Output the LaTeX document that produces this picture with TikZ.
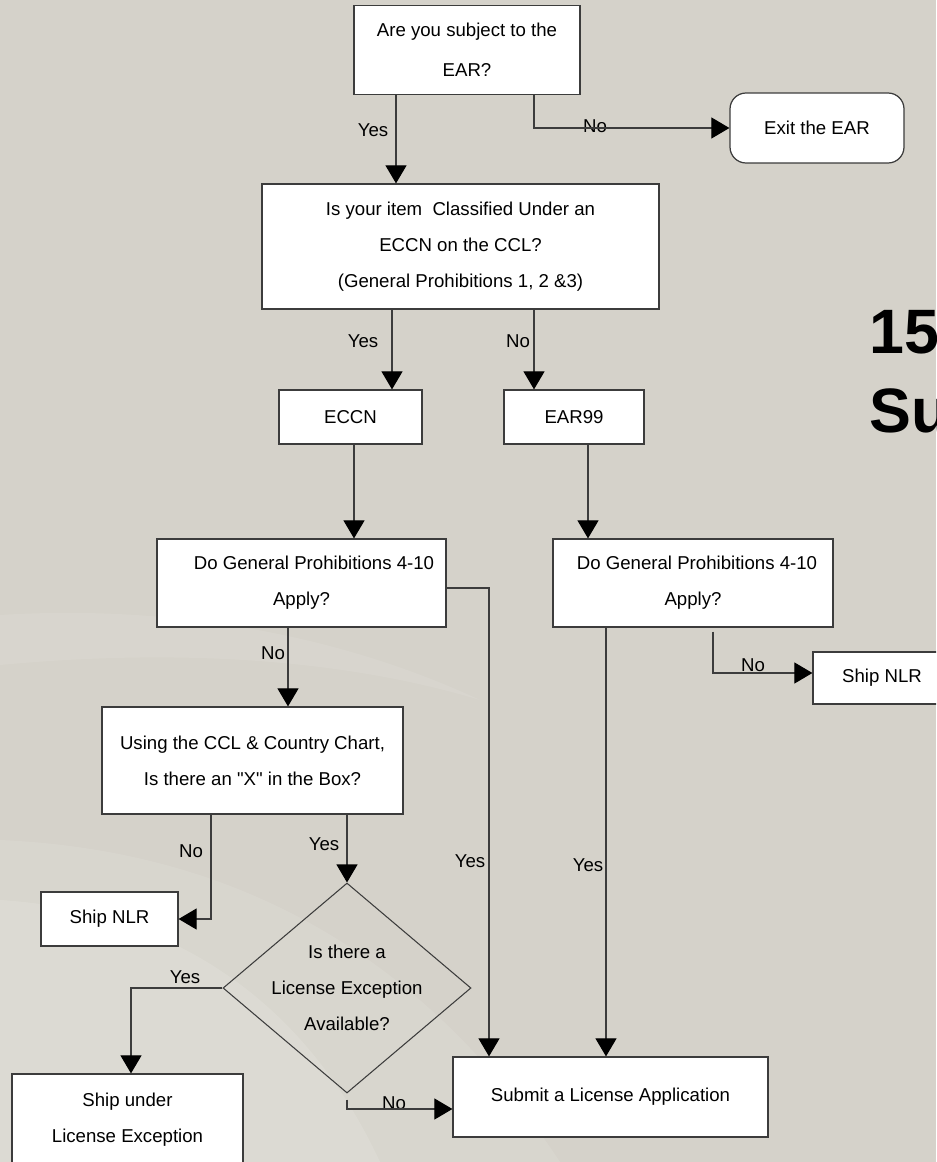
\documentclass[tikz,border=0pt]{standalone}
\usepackage{fontspec}
\setmainfont{Liberation Sans}[Ligatures=TeXOff]
\usetikzlibrary{shapes.geometric,arrows.meta}

\definecolor{slidebg}{HTML}{D5D2CA}
\definecolor{boxline}{HTML}{3C3C3C}
\newdimen\pxu \pxu=0.02cm

\tikzset{
  box/.style={draw=boxline, fill=white, line width=0.7pt, inner sep=0pt, align=center},
  lbl/.style={inner sep=0pt},
  flow/.style={draw=boxline, line width=0.6pt, -{Triangle[length=0.36cm,width=0.42cm,color=black]}},
}

\begin{document}
\begin{tikzpicture}[x=0.02cm, y=-0.02cm, font=\fontsize{10.6}{20.4}\selectfont]
  \useasboundingbox (0,0) rectangle (936,1162);
  \clip (0,0) rectangle (936,1162);

  % slide background with the light swoosh
  \fill[slidebg] (0,0) rectangle (936,1162);
  \fill[white, opacity=0.08] (0,615) .. controls (160,605) and (330,630) .. (480,700)
    .. controls (330,655) and (160,650) .. (0,665) -- cycle;
  \fill[white, opacity=0.09] (0,840) .. controls (230,850) and (420,950) .. (560,1162) -- (0,1162) -- cycle;
  \fill[white, opacity=0.12] (0,900) .. controls (160,910) and (300,990) .. (380,1162) -- (0,1162) -- cycle;

  % title, cut by the page edge
  \node[lbl, anchor=base west, font=\fontsize{35.7}{44}\selectfont\bfseries] (title1) at (869,353) {15};
  \node[lbl, anchor=base west, font=\fontsize{35.7}{44}\selectfont\bfseries] (title2) at (869,432) {Su};

  % boxes
  \node[box, font=\fontsize{10.6}{22.6}\selectfont, minimum width=226\pxu, minimum height=89\pxu] (subj) at (467,50)
    {Are you subject to the\\EAR?};
  \node[box, rounded corners=16\pxu, minimum width=174\pxu, minimum height=70\pxu] (exit) at (817,128) {Exit the EAR};
  \node[box, minimum width=397\pxu, minimum height=125\pxu] (ccl) at (460.5,246.5)
    {Is your item~ Classified Under an\\ECCN on the CCL?\\(General Prohibitions 1, 2 \&3)};
  \node[box, minimum width=143\pxu, minimum height=54\pxu] (eccn) at (350.5,417) {ECCN};
  \node[box, minimum width=140\pxu, minimum height=54\pxu] (ear99) at (574,417) {EAR99};
  \node[box, minimum width=289\pxu, minimum height=88\pxu] (gpa) at (301.5,583)
    {\hspace*{25\pxu}Do General Prohibitions 4-10\\Apply?};
  \node[box, minimum width=280\pxu, minimum height=88\pxu] (gpb) at (693,583)
    {\hspace*{8\pxu}Do General Prohibitions 4-10\\Apply?};
  \node[box, minimum width=138\pxu, minimum height=52\pxu] (nlrb) at (882,678) {Ship NLR};
  \node[box, minimum width=301\pxu, minimum height=107\pxu] (chart) at (252.5,760.5)
    {Using the CCL \& Country Chart,\\Is there an "X" in the Box?};
  \node[box, minimum width=137\pxu, minimum height=54\pxu] (nlra) at (109.5,919) {Ship NLR};
  \node[diamond, draw=boxline, line width=0.6pt, inner sep=-8\pxu, aspect=1.18, align=center,
    minimum width=248\pxu, minimum height=210\pxu] (lex) at (347,988)
    {Is there a\\License Exception\\Available?};
  \node[box, minimum width=231\pxu, minimum height=92\pxu] (shipx) at (127.5,1120) {Ship under\\License Exception};
  \node[box, minimum width=315\pxu, minimum height=80\pxu] (submit) at (610.5,1097) {Submit a License Application};

  % labels
  \node[lbl] (yes1) at (373,130) {Yes};
  \node[lbl] (no1) at (595,126) {No};
  \node[lbl] (yes2) at (363,341) {Yes};
  \node[lbl] (no2) at (518,341) {No};
  \node[lbl] (no3) at (273,653) {No};
  \node[lbl] (no4) at (753,665) {No};
  \node[lbl] (yes3) at (324,844) {Yes};
  \node[lbl] (no5) at (191,851) {No};
  \node[lbl] (yes4) at (470,861) {Yes};
  \node[lbl] (yes5) at (588,865) {Yes};
  \node[lbl] (yes6) at (185,977) {Yes};
  \node[lbl] (no6) at (394,1103) {No};

  % connectors
  \draw[flow] ([xshift=-71\pxu]subj.south) -- ([xshift=-71\pxu]subj.south |- ccl.north);
  \draw[flow] ([xshift=67\pxu]subj.south) |- (exit.west);
  \draw[flow] ([xshift=-68.5\pxu]ccl.south) -- ([xshift=-68.5\pxu]ccl.south |- eccn.north);
  \draw[flow] ([xshift=73.5\pxu]ccl.south) -- ([xshift=73.5\pxu]ccl.south |- ear99.north);
  \draw[flow] ([xshift=3.5\pxu]eccn.south) -- ([xshift=3.5\pxu]eccn.south |- gpa.north);
  \draw[flow] ([xshift=14\pxu]ear99.south) -- ([xshift=14\pxu]ear99.south |- gpb.north);
  \draw[flow] ([yshift=-5\pxu]gpa.east) -| ([xshift=-121.5\pxu]submit.north);
  \draw[flow] ([xshift=-87\pxu]gpb.south) -- ([xshift=-87\pxu]gpb.south |- submit.north);
  \draw[flow] ([xshift=20\pxu,yshift=-4\pxu]gpb.south) |- ([yshift=5\pxu]nlrb.west);
  \draw[flow] ([xshift=-13.5\pxu]gpa.south) -- ([xshift=-13.5\pxu]gpa.south |- chart.north);
  \draw[flow] ([xshift=-41.5\pxu]chart.south) |- (nlra.east);
  \draw[flow] ([xshift=94.5\pxu]chart.south) -- ([xshift=94.5\pxu]chart.south |- lex.north);
  \draw[flow] (lex.west) -| ([xshift=3.5\pxu]shipx.north);
  \draw[flow] ([yshift=-6\pxu]lex.south) |- ([yshift=-12\pxu]submit.west);
\end{tikzpicture}
\end{document}
